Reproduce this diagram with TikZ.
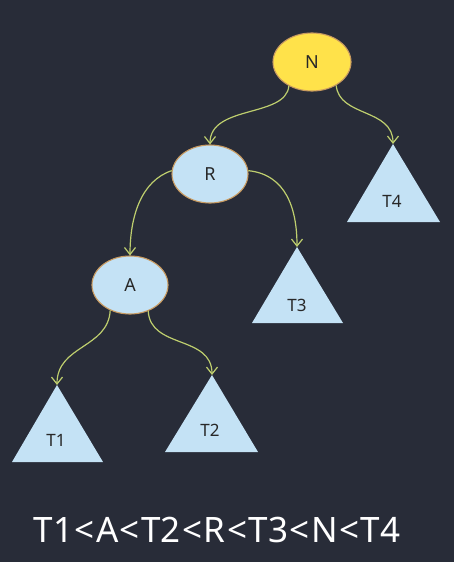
\documentclass[tikz,border=0pt]{standalone}
\usepackage{fontspec}
\setmainfont{Noto Sans}
\usetikzlibrary{shapes.geometric,arrows.meta}
\definecolor{bg}{RGB}{40,44,56}
\definecolor{yel}{RGB}{255,226,74}
\definecolor{blu}{RGB}{196,226,245}
\definecolor{rim}{RGB}{200,154,96}
\definecolor{edgec}{RGB}{190,206,110}
\definecolor{ink}{RGB}{40,40,40}
\newcommand{\lt}{\kern1.5pt<\kern1.5pt}
\tikzset{
  circnode/.style={ellipse,draw=rim,line width=1.1pt,minimum width=76pt,minimum height=58pt,inner sep=0pt,text=ink,font=\fontsize{18}{20}\selectfont},
  ynode/.style={circnode,fill=yel},
  bnode/.style={circnode,fill=blu},
  trifill/.style={fill=blu},
  tlabel/.style={inner sep=0pt,text=ink,font=\fontsize{17}{19}\selectfont},
  edge/.style={draw=edgec,line width=1.2pt,-{Straight Barb[length=7pt,width=11pt]}},
}
\begin{document}
\begin{tikzpicture}[x=1pt,y=-1pt]
\fill[bg] (0,0) rectangle (454,562);
\useasboundingbox (0,0) rectangle (454,562);
% internal nodes
\node[ynode,minimum width=78pt] (N) at (312,62) {N};
\node[bnode] (R) at (210,174) {R};
\node[bnode] (A) at (130,285) {A};
% subtrees
\fill[trifill] (393,144) -- (440,222) -- (347,222) -- cycle;
\node[tlabel] (T4) at (392,201) {T4};
\coordinate (T4a) at (393,144);
\fill[trifill] (297,247) -- (343,323) -- (252,323) -- cycle;
\node[tlabel] (T3) at (297,305) {T3};
\coordinate (T3a) at (297,247);
\fill[trifill] (57,385) -- (103,462) -- (12,462) -- cycle;
\node[tlabel] (T1) at (56,440) {T1};
\coordinate (T1a) at (57,385);
\fill[trifill] (212,375) -- (258,452) -- (165,452) -- cycle;
\node[tlabel] (T2) at (210,430) {T2};
\coordinate (T2a) at (212,375);
% connectors
\draw[edge] (N.226) .. controls +(-3,32) and +(0,-40) .. (R.north);
\draw[edge] (N.316) .. controls +(3,32) and +(0,-36) .. (T4a);
\draw[edge] (R.175) .. controls +(-30,10) and +(0,-40) .. (A.north);
\draw[edge] (R.5) .. controls +(38,4) and +(0,-38) .. (T3a);
\draw[edge] (A.232) .. controls +(-2,38) and +(0,-40) .. (T1a);
\draw[edge] (A.305) .. controls +(2,38) and +(0,-40) .. (T2a);
% ordering
\node[text=white,font=\fontsize{35}{40}\selectfont] (ord) at (217,530) {T1\lt A\lt T2\lt R\lt T3\lt N\lt T4};
\end{tikzpicture}
\end{document}
